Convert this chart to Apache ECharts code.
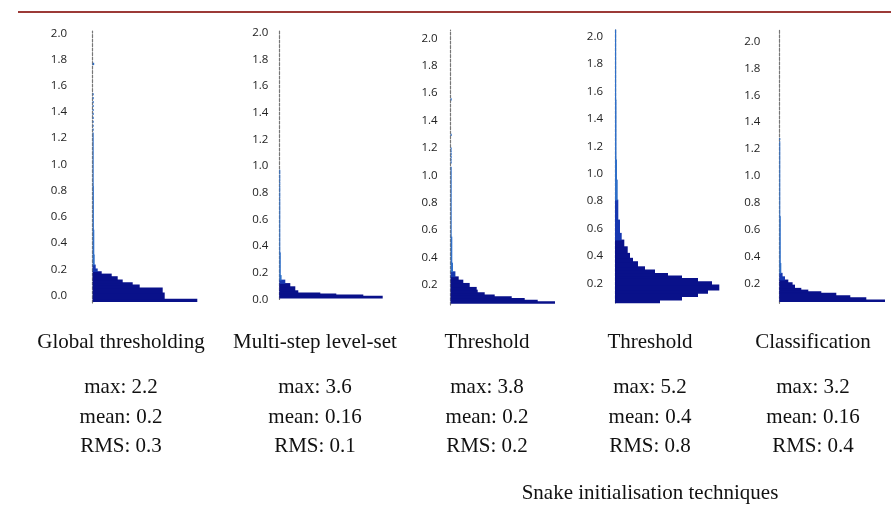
<!DOCTYPE html>
<html>
<head>
<meta charset="utf-8">
<script src="https://cdn.jsdelivr.net/npm/echarts@6/dist/echarts.min.js"></script>
<style>
  html, body { margin: 0; padding: 0; background: #fff; }
  #chart { width: 891px; height: 510px; }
</style>
</head>
<body>
<div id="chart"></div>
<script>
// labels under each panel
const methods = ['Global thresholding', 'Multi-step level-set', 'Threshold', 'Threshold', 'Classification'];
const maxVals = ['2.2', '3.6', '3.8', '5.2', '3.2'];
const meanVals = ['0.2', '0.16', '0.2', '0.4', '0.16'];
const rmsVals = ['0.3', '0.1', '0.2', '0.8', '0.4'];
const xTitle = 'Snake initialisation techniques';

const ticksFromZero = [0, 0.2, 0.4, 0.6, 0.8, 1.0, 1.2, 1.4, 1.6, 1.8, 2.0];
const ticksFromPoint2 = [0.2, 0.4, 0.6, 0.8, 1.0, 1.2, 1.4, 1.6, 1.8, 2.0];

// histogram bins: [low, high, count]
const globalBins = [
  [-0.046, -0.027, 104.6], [-0.027, 0.021, 72], [0.021, 0.059, 70], [0.059, 0.082, 47],
  [0.082, 0.099, 40], [0.099, 0.12, 30], [0.12, 0.145, 25], [0.145, 0.165, 19],
  [0.165, 0.183, 9], [0.183, 0.204, 5], [0.204, 0.234, 3], [0.234, 0.31, 2],
  [0.31, 0.5, 1.6], [0.5, 0.83, 1.2], [0.83, 1.24, 1],
  [1.26, 1.27, 1], [1.29, 1.30, 1], [1.32, 1.33, 1], [1.35, 1.36, 1], [1.38, 1.39, 1],
  [1.41, 1.42, 1], [1.44, 1.45, 1], [1.47, 1.48, 1], [1.50, 1.51, 1], [1.53, 1.54, 1],
  [1.76, 1.772, 1.5]
];
const levelSetBins = [
  [0.01, 0.026, 103.4], [0.026, 0.034, 84], [0.034, 0.042, 57], [0.042, 0.05, 41],
  [0.05, 0.066, 19], [0.066, 0.096, 16], [0.096, 0.12, 11], [0.12, 0.146, 6],
  [0.146, 0.18, 2.3], [0.18, 0.35, 1.5], [0.35, 0.75, 1],
  [0.76, 0.80, 1], [0.81, 0.85, 1], [0.86, 0.88, 1], [0.89, 0.93, 1], [0.94, 0.97, 1]
];
const thresholdBins = [
  [0.066, 0.078, 104.3], [0.078, 0.09, 87], [0.09, 0.103, 74], [0.103, 0.115, 61],
  [0.115, 0.127, 44], [0.127, 0.144, 34], [0.144, 0.163, 27], [0.163, 0.183, 26],
  [0.183, 0.212, 19], [0.212, 0.236, 12.6], [0.236, 0.26, 8], [0.26, 0.297, 4.7],
  [0.297, 0.36, 2.3], [0.36, 0.55, 1.6], [0.55, 1.06, 1],
  [1.09, 1.10, 1], [1.11, 1.12, 1], [1.13, 1.14, 1], [1.15, 1.16, 1], [1.17, 1.18, 1],
  [1.19, 1.20, 1], [1.29, 1.30, 1], [1.55, 1.56, 1]
];
const threshold2Bins = [
  [0.058, 0.078, 45], [0.078, 0.102, 67], [0.102, 0.127, 83], [0.127, 0.151, 93],
  [0.151, 0.188, 104.3], [0.188, 0.212, 97], [0.212, 0.236, 83], [0.236, 0.253, 67],
  [0.253, 0.273, 53], [0.273, 0.297, 40], [0.297, 0.321, 30], [0.321, 0.358, 23],
  [0.358, 0.383, 18], [0.383, 0.419, 15], [0.419, 0.467, 12.7], [0.467, 0.516, 9.3],
  [0.516, 0.565, 6.7], [0.565, 0.662, 5], [0.662, 0.808, 3.3], [0.808, 0.954, 2.7],
  [0.954, 1.1, 2], [1.1, 1.537, 1.5], [1.537, 2.049, 1.2]
];
const classificationBins = [
  [0.063, 0.076, 105.7], [0.076, 0.093, 87], [0.093, 0.108, 71], [0.108, 0.126, 57],
  [0.126, 0.137, 42], [0.137, 0.15, 29], [0.15, 0.163, 22], [0.163, 0.187, 15.7],
  [0.187, 0.205, 13.3], [0.205, 0.225, 9], [0.225, 0.249, 5.7], [0.249, 0.275, 3.3],
  [0.275, 0.349, 2], [0.349, 0.696, 1.5], [0.696, 1.255, 1], [1.27, 1.28, 1]
];

// panel layout (pixels) and axis ranges
const panels = [
  { bins: globalBins, ticks: ticksFromZero, axisX: 82, barStart: 92.7, barEnd: 197.3, top: 31, bottom: 303, min: -0.056, max: 2.017, gap: 15, cx: 121 },
  { bins: levelSetBins, ticks: ticksFromZero, axisX: 269.3, barStart: 279.3, barEnd: 382.7, top: 30, bottom: 299.5, min: 0, max: 2.02, gap: 1, cx: 315 },
  { bins: thresholdBins, ticks: ticksFromPoint2, axisX: 441.7, barStart: 450.7, barEnd: 555, top: 30, bottom: 305, min: 0.054, max: 2.061, gap: 4, cx: 487 },
  { bins: threshold2Bins, ticks: ticksFromPoint2, axisX: 614, barStart: 615, barEnd: 719.3, top: 30, bottom: 303, min: 0.056, max: 2.049, gap: 11, cx: 650 },
  { bins: classificationBins, ticks: ticksFromPoint2, axisX: 769.3, barStart: 779.3, barEnd: 885, top: 30, bottom: 303.3, min: 0.051, max: 2.087, gap: 9, cx: 813 }
];

const navy = '#09118a';
const midBlue = '#1637b0';
const thinBlue = '#2f6fc8';
const serif = '"Liberation Serif", "DejaVu Serif", serif';

const chart = echarts.init(document.getElementById('chart'));

const grids = panels.map((p) => ({
  left: p.axisX,
  top: p.top,
  width: p.barEnd - p.axisX,
  height: p.bottom - p.top
}));

const xAxes = panels.map((p, i) => ({
  type: 'value',
  gridIndex: i,
  min: -(p.barStart - p.axisX),
  max: p.barEnd - p.barStart,
  show: false
}));

const yAxes = panels.map((p, i) => ({
  type: 'value',
  gridIndex: i,
  min: p.min,
  max: p.max,
  axisLine: { show: true, lineStyle: { color: '#777', type: [3, 1.5], width: 1.2 } },
  axisTick: { show: false },
  splitLine: { show: false },
  axisLabel: {
    customValues: p.ticks,
    formatter: (v) => v.toFixed(1),
    margin: p.gap,
    color: '#222',
    fontSize: 11.5,
    fontFamily: '"Open Sans", "Noto Sans", sans-serif'
  }
}));

const series = panels.map((p, i) => ({
  type: 'custom',
  xAxisIndex: i,
  yAxisIndex: i,
  encode: { x: 2, y: [0, 1] },
  data: p.bins,
  silent: true,
  renderItem: (params, api) => {
    const lo = api.value(0);
    const hi = api.value(1);
    const count = api.value(2);
    const p0 = api.coord([0, hi]);
    const p1 = api.coord([count, lo]);
    let fill = navy;
    if (count < 3) fill = thinBlue;
    else if (count < 8) fill = midBlue;
    // small overlap so neighbouring bins do not leave hairline gaps
    return {
      type: 'rect',
      shape: { x: p0[0], y: p0[1] - 0.4, width: p1[0] - p0[0], height: p1[1] - p0[1] + 0.8 },
      style: { fill }
    };
  }
}));

const texts = [];
panels.forEach((p, i) => {
  texts.push({
    type: 'text', x: p.cx, y: 342,
    style: { text: methods[i], font: `21px ${serif}`, fill: '#111', align: 'center', verticalAlign: 'middle' }
  });
  texts.push({
    type: 'text', x: p.cx, y: 417,
    style: {
      text: `max: ${maxVals[i]}\nmean: ${meanVals[i]}\nRMS: ${rmsVals[i]}`,
      font: `21px ${serif}`, lineHeight: 29.5, fill: '#111', align: 'center', verticalAlign: 'middle'
    }
  });
});
texts.push({
  type: 'text', x: 650, y: 493,
  style: { text: xTitle, font: `21px ${serif}`, fill: '#111', align: 'center', verticalAlign: 'middle' }
});
texts.push({
  type: 'line',
  shape: { x1: 18, y1: 12, x2: 891, y2: 12 },
  style: { stroke: '#9c3a37', lineWidth: 2 }
});

chart.setOption({
  animation: false,
  grid: grids,
  xAxis: xAxes,
  yAxis: yAxes,
  series,
  graphic: texts
});
</script>
</body>
</html>
